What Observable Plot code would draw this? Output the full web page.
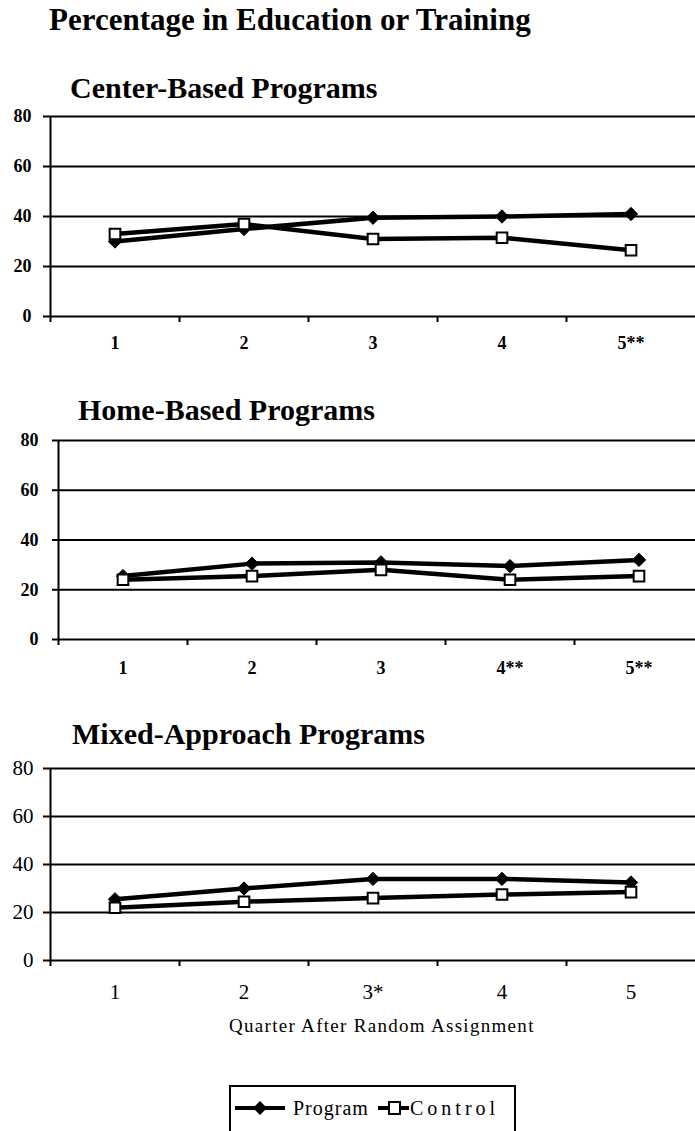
<!DOCTYPE html>
<html>
<head>
<meta charset="utf-8">
<script src="https://cdn.jsdelivr.net/npm/d3@7"></script>
<script src="https://cdn.jsdelivr.net/npm/@observablehq/plot@0.6"></script>
<style>
  html, body { margin: 0; padding: 0; background: white; }
  #page { position: relative; width: 695px; height: 1131px; overflow: hidden; background: white;
          font-family: "Liberation Serif", "Times New Roman", serif; color: black; }
  .abs { position: absolute; white-space: nowrap; line-height: 1; z-index: 2; }
  .title { font-weight: bold; font-size: 31px; }
  .ptitle { font-weight: bold; font-size: 30px; }
  .panel { position: absolute; left: 0; z-index: 1; }
  #legend { position: absolute; left: 229px; top: 1085px; width: 283px; height: 70px;
            border: 2px solid black; border-bottom: none; }
</style>
</head>
<body>
<div id="page">
  <div id="p1" class="panel" style="top:100px;"></div>
  <div id="p2" class="panel" style="top:424px;"></div>
  <div id="p3" class="panel" style="top:752px;"></div>
  <div class="abs title" style="left:49px; top:4px;">Percentage in Education or Training</div>
  <div class="abs ptitle" style="left:70px; top:73px;">Center-Based Programs</div>
  <div class="abs ptitle" style="left:78px; top:395px;">Home-Based Programs</div>
  <div class="abs ptitle" style="left:72px; top:719px;">Mixed-Approach Programs</div>
  <div class="abs" id="xtitle" style="left:229px; top:1016px; font-size:19px; letter-spacing:1.3px;">Quarter After Random Assignment</div>
  <div id="legend"></div>
</div>
<script>
// ---- data ----
const quarters = [1, 2, 3, 4, 5];
const bandEdges = [0.5, 1.5, 2.5, 3.5, 4.5];
const yTicks = [0, 20, 40, 60, 80];

const centerLabels = ["1", "2", "3", "4", "5**"];
const centerProgram = [30, 35, 39.5, 40, 41];
const centerControl = [33, 37, 31, 31.5, 26.5];

const homeLabels = ["1", "2", "3", "4**", "5**"];
const homeProgram = [25.5, 30.5, 31, 29.5, 32];
const homeControl = [24, 25.5, 28, 24, 25.5];

const mixedLabels = ["1", "2", "3*", "4", "5"];
const mixedProgram = [25.5, 30, 34, 34, 32.5];
const mixedControl = [22, 24.5, 26, 27.5, 28.5];

const seriesNames = ["Program", "Control"];

const FONT = "Liberation Serif, Times New Roman, serif";

function panel(el, cfg) {
  const rows = [];
  quarters.forEach((q, i) => {
    rows.push({q, value: cfg.program[i], series: seriesNames[0]});
    rows.push({q, value: cfg.control[i], series: seriesNames[1]});
  });
  const prog = rows.filter(d => d.series === seriesNames[0]);
  const ctrl = rows.filter(d => d.series === seriesNames[1]);
  const chart = Plot.plot({
    width: 695,
    height: cfg.marginTop + cfg.plotH + cfg.marginBottom,
    marginTop: cfg.marginTop,
    marginBottom: cfg.marginBottom,
    marginLeft: cfg.marginLeft,
    marginRight: 0,
    style: {background: "transparent", overflow: "hidden"},
    x: {domain: [0.5, 5.5], range: [cfg.marginLeft, cfg.rangeRight], label: null},
    y: {domain: [0, 80], label: null},
    marks: [
      Plot.ruleY(yTicks, {stroke: "black", strokeWidth: 2}),
      Plot.ruleX([0.5], {stroke: "black", strokeWidth: 2}),
      Plot.axisY({ticks: yTicks, tickSize: cfg.ySize, tickPadding: cfg.yPad, strokeWidth: 2,
                  label: null, fontSize: cfg.fontSize, fontWeight: cfg.fontWeight, fontFamily: FONT}),
      Plot.axisX({ticks: bandEdges, tickSize: 6, strokeWidth: 2, tickFormat: () => "", label: null}),
      Plot.axisX({ticks: quarters, tickSize: 0, tickPadding: cfg.xPad, tickFormat: d => cfg.labels[d - 1],
                  label: null, fontSize: cfg.fontSize, fontWeight: cfg.fontWeight, fontFamily: FONT}),
      Plot.line(rows, {x: "q", y: "value", z: "series", stroke: "black", strokeWidth: 4.5}),
      Plot.dot(prog, {x: "q", y: "value", symbol: "diamond2", r: 6, fill: "black", stroke: "black", strokeWidth: 1}),
      Plot.dot(ctrl, {x: "q", y: "value", symbol: "square", r: 6, fill: "white", stroke: "black", strokeWidth: 2})
    ]
  });
  el.appendChild(chart);
}

panel(document.getElementById("p1"), {program: centerProgram, control: centerControl, labels: centerLabels,
  marginTop: 16, plotH: 200, marginBottom: 44, marginLeft: 50, rangeRight: 695,
  ySize: 7, yPad: 12, xPad: 20, fontSize: 18, fontWeight: "bold"});
panel(document.getElementById("p2"), {program: homeProgram, control: homeControl, labels: homeLabels,
  marginTop: 16, plotH: 199, marginBottom: 44, marginLeft: 58, rangeRight: 703,
  ySize: 6, yPad: 14, xPad: 22, fontSize: 18, fontWeight: "bold"});
panel(document.getElementById("p3"), {program: mixedProgram, control: mixedControl, labels: mixedLabels,
  marginTop: 16, plotH: 192, marginBottom: 44, marginLeft: 50, rangeRight: 695,
  ySize: 7, yPad: 10, xPad: 24, fontSize: 21, fontWeight: "normal"});

// ---- legend ----
const legend = document.getElementById("legend");
legend.innerHTML = `
<svg width="283" height="40" style="position:absolute;left:0;top:0;font-family:${FONT}">
  <line x1="4" x2="54" y1="21" y2="21" stroke="black" stroke-width="4"/>
  <path d="M29,14 L36,21 L29,28 L22,21 Z" fill="black"/>
  <text x="62" y="28" font-size="20" letter-spacing="1">${seriesNames[0]}</text>
  <line x1="147" x2="178" y1="21" y2="21" stroke="black" stroke-width="4"/>
  <rect x="158" y="15" width="11" height="12" fill="white" stroke="black" stroke-width="2"/>
  <text x="179" y="28" font-size="20" letter-spacing="4">${seriesNames[1]}</text>
</svg>`;
</script>
</body>
</html>
